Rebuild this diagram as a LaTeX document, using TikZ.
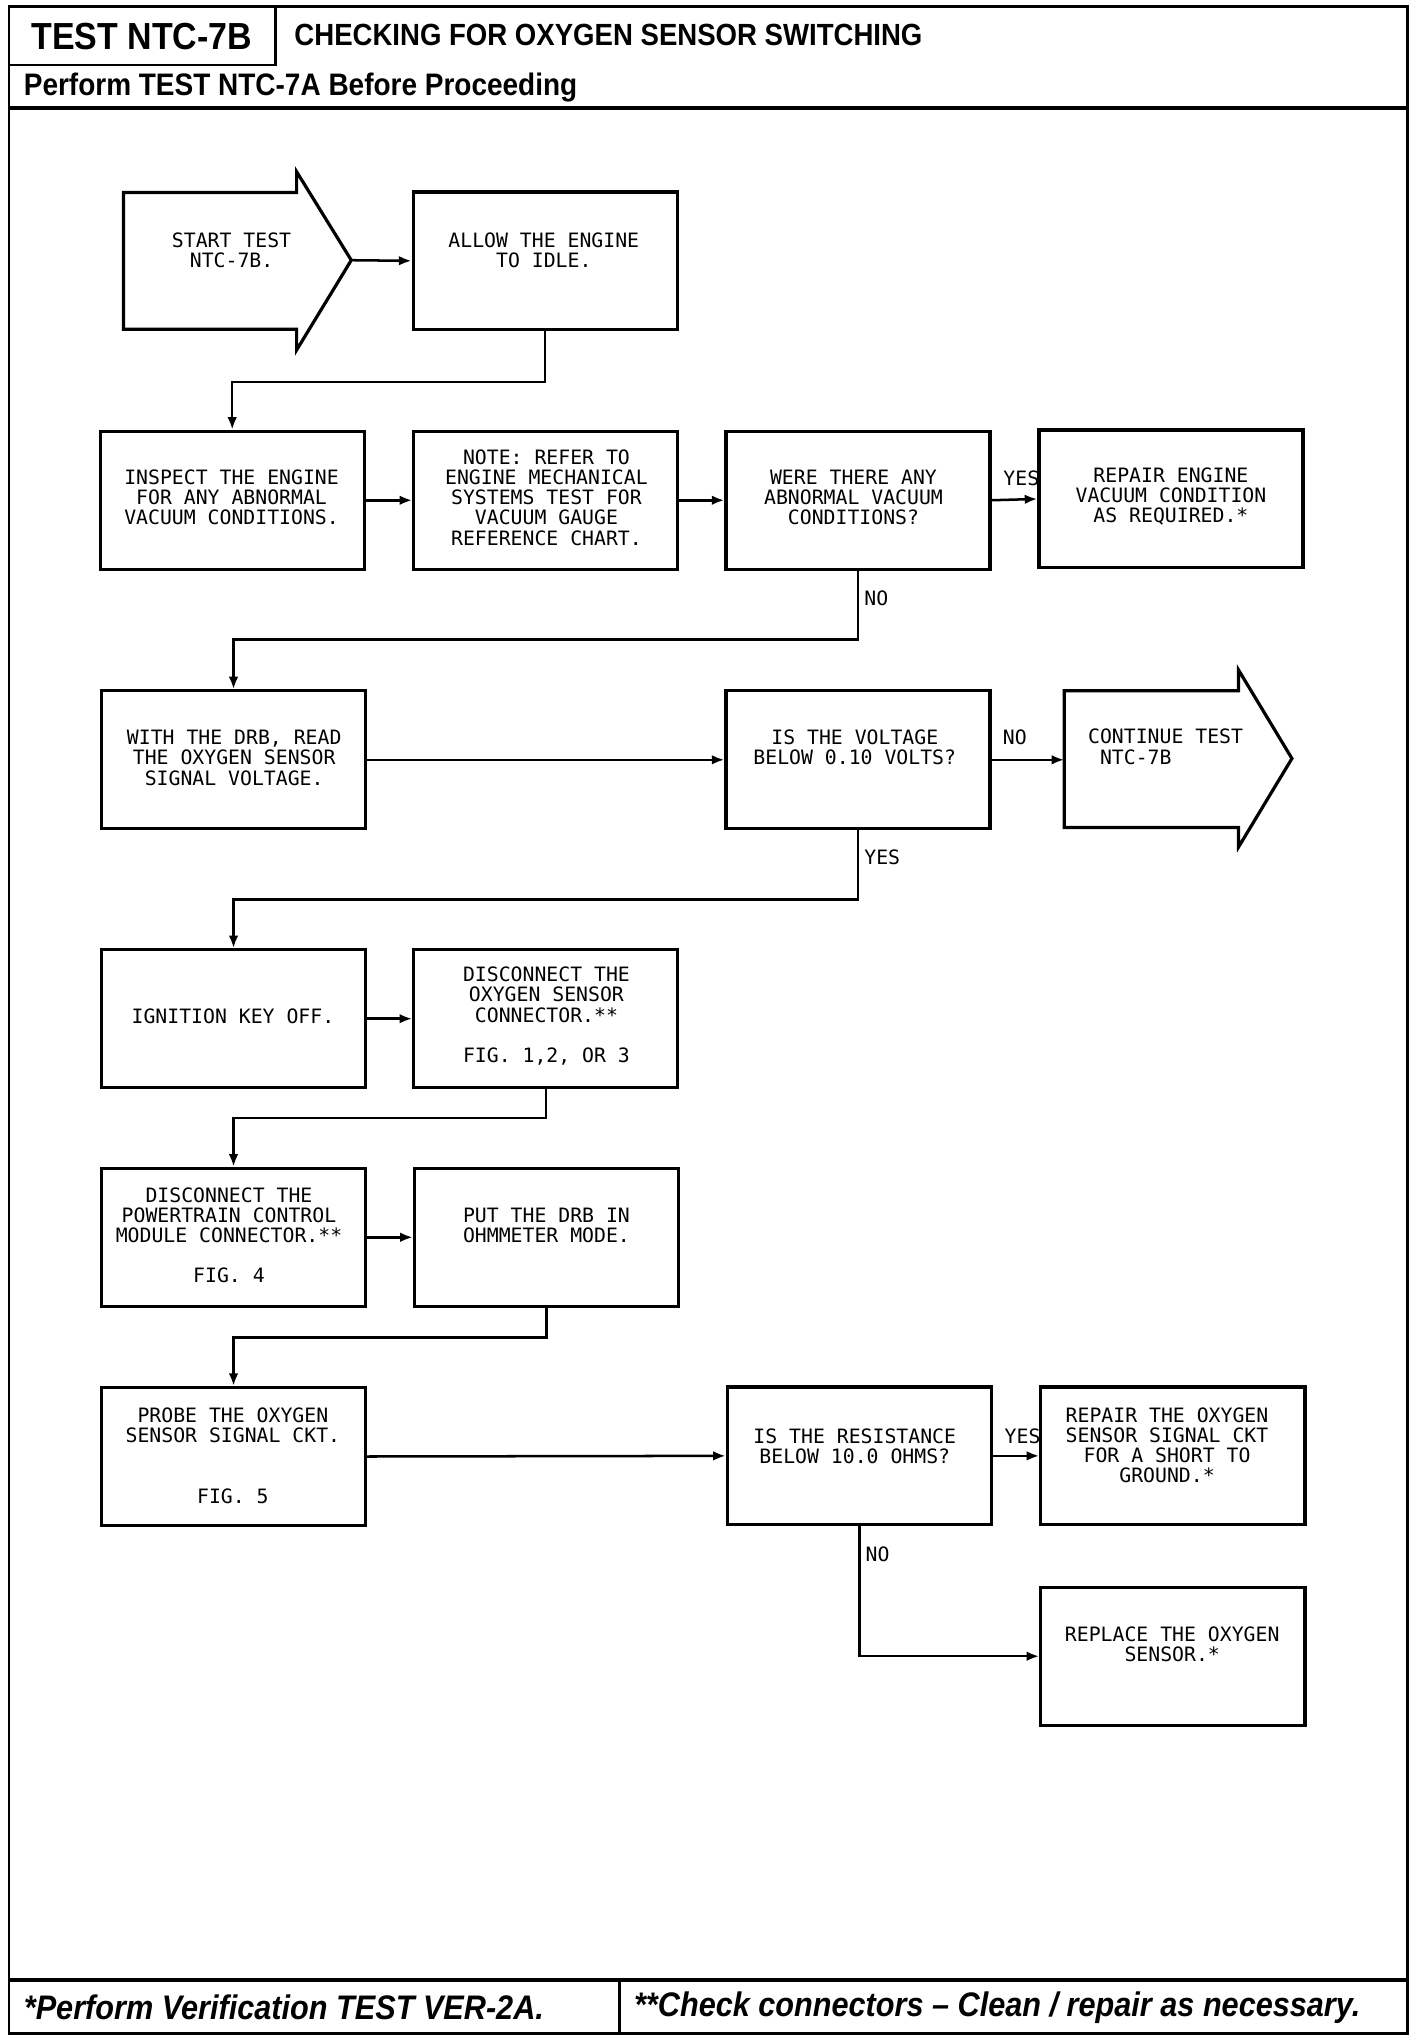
\documentclass[tikz,border=0pt]{standalone}
\usepackage{fontspec}
\usetikzlibrary{arrows.meta,calc}
\newfontfamily\plotfont{DejaVu Sans Mono}
\newfontfamily\hdrfont[FakeStretch=0.9]{Liberation Sans}
\begin{document}
\begin{tikzpicture}[x=0.02cm,y=-0.02cm,
  box/.style={draw,line width=1.4pt,minimum width=4.06cm,minimum height=2.12cm,inner sep=0pt},
  arrowshape/.style={draw,line width=1.4pt,line join=miter},
  txt/.style={font=\plotfont\fontsize{8.66}{8.8}\selectfont,align=center,inner sep=0pt},
  lbl/.style={font=\plotfont\fontsize{8.66}{8.8}\selectfont,inner sep=0pt},
  conn/.style={line width=1.1pt,-{Latex[length=5.5pt,width=4.2pt]}},
  frame/.style={line width=1.2pt},
  thickrule/.style={line width=2pt},
  hdr/.style={font=\hdrfont\bfseries,inner sep=0pt},
  ftr/.style={font=\hdrfont\bfseries\itshape\fontsize{14.9}{16}\selectfont,inner sep=0pt,anchor=west}]
\useasboundingbox (0,0) rectangle (1094.5,1568);
% frame and header/footer
\draw[frame] (7,5) rectangle (1082,1563);
\draw[frame] (212,5) -- (212,50) -- (7,50);
\draw[thickrule] (7,83) -- (1082,83);
\draw[thickrule] (7,1522) -- (1082,1522);
\draw[frame] (476,1522) -- (476,1563);
\node[hdr,font=\hdrfont\bfseries\fontsize{16.5}{18}\selectfont] (testid) at (109,28) {TEST NTC-7B};
\node[hdr,anchor=west,font=\hdrfont\bfseries\fontsize{13.4}{15}\selectfont] (title) at (226,27) {CHECKING FOR OXYGEN SENSOR SWITCHING};
\node[hdr,anchor=west,font=\hdrfont\bfseries\fontsize{13.6}{15}\selectfont] (pre) at (18,67) {Perform TEST NTC-7A Before Proceeding};
\node[ftr] (fn1) at (18,1543) {*Perform Verification TEST VER-2A.};
\node[ftr] (fn2) at (487,1543) {**Check connectors – Clean / repair as necessary.};

% start arrow
\draw[arrowshape] (95,148) -- (228,148) -- (228,132) -- (270,200) -- (228,269) -- (228,253) -- (95,253) -- cycle;
\coordinate (starttip) at (270,200);
\node[txt] (startt) at (178,192.5) {START TEST\\NTC-7B.};

% boxes
\node[box] (allow) at (419,200.5) {};
\node[txt] (allowt) at (418,192.5) {ALLOW THE ENGINE\\TO IDLE.};

\node[box] (inspect) at (178.5,384.5) {};
\node[txt] (inspectt) at (178,382.5) {INSPECT THE ENGINE\\FOR ANY ABNORMAL\\VACUUM CONDITIONS.};
\node[box] (note) at (419.5,384.5) {};
\node[txt] (notet) at (420,382.5) {NOTE: REFER TO\\ENGINE MECHANICAL\\SYSTEMS TEST FOR\\VACUUM GAUGE\\REFERENCE CHART.};
\node[box] (were) at (659.5,384.5) {};
\node[txt] (weret) at (656,382.5) {WERE THERE ANY\\ABNORMAL VACUUM\\CONDITIONS?};
\node[box] (repeng) at (900,383.5) {};
\node[txt] (repengt) at (900,381.5) {REPAIR ENGINE\\VACUUM CONDITION\\AS REQUIRED.*};

\node[box] (with) at (179.5,584) {};
\node[txt] (witht) at (180,582.5) {WITH THE DRB, READ\\THE OXYGEN SENSOR\\SIGNAL VOLTAGE.};
\node[box] (isv) at (659.5,584) {};
\node[txt] (isvt) at (657,574.5) {IS THE VOLTAGE\\BELOW 0.10 VOLTS?};
\draw[arrowshape] (818,531) -- (952,531) -- (952,515) -- (993,583) -- (952,651) -- (952,636) -- (818,636) -- cycle;
\coordinate (contw) at (818,584);
\node[txt,align=left,anchor=west] (contt) at (836,574) {CONTINUE TEST\\\phantom{C}NTC-7B};

\node[box] (ign) at (179.5,783) {};
\node[txt] (ignt) at (179,781) {IGNITION KEY OFF.};
\node[box] (disc) at (419.5,783) {};
\node[txt] (disct) at (420,781) {DISCONNECT THE\\OXYGEN SENSOR\\CONNECTOR.**\\[8.8pt]FIG. 1,2, OR 3};

\node[box] (pcm) at (179.5,951) {};
\node[txt] (pcmt) at (176,949.5) {DISCONNECT THE\\POWERTRAIN CONTROL\\MODULE CONNECTOR.**\\[8.8pt]FIG. 4};
\node[box] (put) at (420,951) {};
\node[txt] (putt) at (420,942) {PUT THE DRB IN\\OHMMETER MODE.};

\node[box] (probe) at (179.5,1119.5) {};
\node[txt] (probet) at (179,1119) {PROBE THE OXYGEN\\SENSOR SIGNAL CKT.\\[17.6pt]FIG. 5};
\node[box] (isr) at (660.5,1119) {};
\node[txt] (isrt) at (657,1111.5) {IS THE RESISTANCE\\BELOW 10.0 OHMS?};
\node[box] (repo2) at (901.5,1119) {};
\node[txt] (repo2t) at (897,1111) {REPAIR THE OXYGEN\\SENSOR SIGNAL CKT\\FOR A SHORT TO\\GROUND.*};
\node[box] (replace) at (901.5,1273) {};
\node[txt] (replacet) at (901,1263.5) {REPLACE THE OXYGEN\\SENSOR.*};

% connectors
\draw[conn] (starttip) -- (allow.west);
\draw[conn] (allow.south) -- ++(0,39) -| (inspect.north);
\draw[conn] (inspect.east) -- (note.west);
\draw[conn] (note.east) -- (were.west);
\draw[conn] (were.east) -- (repeng.west);
\node[lbl] (yes1) at (785,368) {YES};
\draw[conn] (were.south) -- ++(0,53) -| (with.north);
\node[lbl,anchor=west] (no1) at (664,460) {NO};
\draw[conn] (with.east) -- (isv.west);
\draw[conn] (isv.east) -- (contw);
\node[lbl] (no2) at (780,567) {NO};
\draw[conn] (isv.south) -- ++(0,53) -| (ign.north);
\node[lbl,anchor=west] (yes2) at (664,659) {YES};
\draw[conn] (ign.east) -- (disc.west);
\draw[conn] (disc.south) -- ++(0,22) -| (pcm.north);
\draw[conn] (pcm.east) -- (put.west);
\draw[conn] (put.south) -- ++(0,23) -| (probe.north);
\draw[conn] (probe.east) -- (isr.west);
\draw[conn] (isr.east) -- (repo2.west);
\node[lbl] (yes3) at (786,1104) {YES};
\draw[conn] (isr.south) |- (replace.west);
\node[lbl,anchor=west] (no3) at (665,1195) {NO};
\end{tikzpicture}
\end{document}
